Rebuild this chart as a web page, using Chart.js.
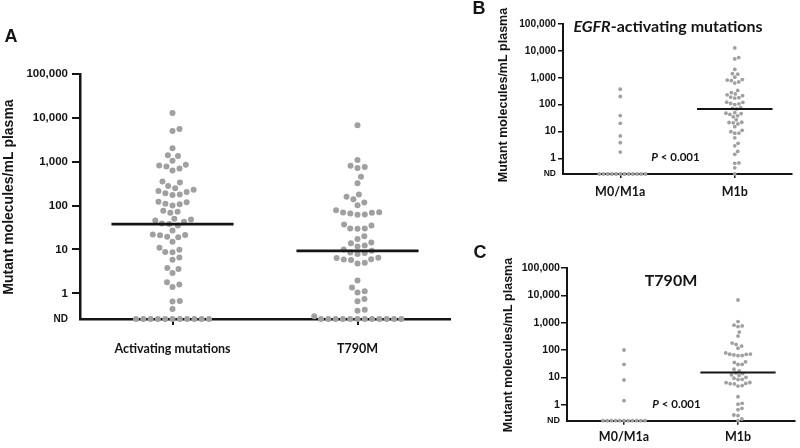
<!DOCTYPE html>
<html>
<head>
<meta charset="utf-8">
<script src="https://cdn.jsdelivr.net/npm/chart.js@4.4.1/dist/chart.umd.min.js"></script>
<style>
  html, body { margin: 0; padding: 0; background: #fff; }
  #wrap { position: relative; width: 800px; height: 448px; overflow: hidden; }
  canvas { position: absolute; }
</style>
</head>
<body>
<div id="wrap">
  <canvas id="panelA" width="460" height="448" style="left:0;top:0"></canvas>
  <canvas id="panelB" width="340" height="224" style="left:460px;top:0"></canvas>
  <canvas id="panelC" width="340" height="224" style="left:460px;top:224px"></canvas>
</div>
<script>
// mutant molecules / mL plasma, 0 = not detected (ND)
const ND_LEVEL = 0.26;
const yTicks = [ND_LEVEL, 1, 10, 100, 1000, 10000, 100000];

// Panel A
const categoriesA = ['Activating mutations', 'T790M'];
const activating = [12900, 5600, 5000, 2040, 1410, 1350, 1050, 850, 820, 780, 700, 630, 355, 335, 280, 250,
  230, 215, 205, 190, 180, 175, 123, 120, 110, 107, 100, 76, 72, 69, 50, 48, 46, 43, 39, 38, 35, 27, 22,
  21.5, 21, 19.5, 19, 15, 11, 9.8, 8.7, 8.6, 6.6, 5.8, 3.8, 3.6, 2.9, 1.8, 1.6, 1.4, 0.67, 0.65, 0.44,
  0, 0, 0, 0, 0, 0, 0, 0, 0, 0, 0];
const t790m = [6760, 1100, 810, 760, 720, 455, 325, 180, 160, 140, 117, 102, 78, 71, 70, 69, 66, 63, 62,
  37, 35, 30, 30, 29.5, 20, 17.4, 14.5, 13.8, 12.3, 11.7, 10, 9.3, 8.5, 8.3, 7.9, 6.5, 6.4, 6.0, 5.9, 5.75,
  5.0, 4.8, 1.95, 1.35, 1.12, 1.05, 0.74, 0.66, 0.42, 0.40, 0.30,
  0, 0, 0, 0, 0, 0, 0, 0, 0, 0, 0, 0];
const mediansA = [38, 9.3];

// Panels B and C
const categoriesBC = ['M0/M1a', 'M1b'];
const egfrM0M1a = [375, 200, 39, 20, 6.8, 3.8, 1.7, 0, 0, 0, 0, 0, 0, 0, 0, 0, 0, 0, 0];
const egfrM1b = [12900, 5600, 5000, 2040, 1410, 1350, 1050, 850, 820, 780, 700, 630, 335, 280, 250, 230,
  215, 190, 180, 175, 123, 120, 110, 107, 100, 76, 72, 69, 50, 48, 46, 43, 38, 35, 27, 22, 21.5, 21, 19,
  15, 11, 9.8, 8.7, 8.6, 5.8, 3.6, 2.9, 1.8, 1.4, 0.67, 0.65, 0.44, 0];
const mediansB = [null, 69];
const t790mM0M1a = [100, 30, 8, 1.4, 0, 0, 0, 0, 0, 0, 0, 0, 0, 0, 0];
const t790mM1b = [6760, 1100, 810, 760, 720, 455, 325, 180, 160, 140, 117, 78, 71, 70, 69, 66, 63, 62, 37,
  35, 30, 29.5, 20, 17.4, 14.5, 13.8, 12.3, 11.7, 10, 9.3, 8.5, 8.3, 6.5, 6.4, 6.0, 5.9, 5.75, 5.0, 4.8,
  1.95, 1.12, 1.05, 0.74, 0.66, 0.42, 0.40, 0.30, 0];
const mediansC = [null, 15];

const INK = '#141414';
const DOT = '#a0a0a0';
const MEDIAN_HALF = 0.33;

const plotValue = v => (v === 0 ? ND_LEVEL : v);

// free text (panel letter, axis title, headings); parts allow italic pieces
function textPlugin(items) {
  return {
    id: 'panelText',
    afterDraw(chart) {
      const ctx = chart.ctx;
      items.forEach(it => {
        ctx.save();
        ctx.translate(it.x, it.y);
        if (it.rotate) ctx.rotate(it.rotate);
        ctx.fillStyle = INK;
        ctx.textBaseline = 'middle';
        ctx.textAlign = 'left';
        const parts = it.parts || [{ text: it.text }];
        const fonts = parts.map(p => (p.italic ? 'italic ' : '') + it.font);
        const widths = parts.map((p, k) => { ctx.font = fonts[k]; return ctx.measureText(p.text).width; });
        let x = -widths.reduce((a, b) => a + b, 0) / 2;
        parts.forEach((p, k) => {
          ctx.font = fonts[k];
          ctx.fillText(p.text, x, 0);
          x += widths[k];
        });
        ctx.restore();
      });
    }
  };
}

// greedy beeswarm in pixel space, lowest values first
function swarm(chart, values, center, spacing) {
  const xs = chart.scales.x, ys = chart.scales.y;
  const cx = xs.getPixelForValue(center);
  const placed = [];
  const out = [];
  const order = values.map((v, i) => i).sort((a, b) => plotValue(values[a]) - plotValue(values[b]));
  order.forEach(i => {
    const py = ys.getPixelForValue(plotValue(values[i]));
    const cands = [0];
    placed.forEach(p => {
      const dy = Math.abs(p.y - py);
      if (dy < spacing) {
        const dx = Math.sqrt(spacing * spacing - dy * dy);
        cands.push(p.x + dx, p.x - dx);
      }
    });
    cands.sort((a, b) => Math.abs(a) - Math.abs(b));
    let best = 0;
    for (const c of cands) {
      if (placed.every(p => (p.x - c) ** 2 + (p.y - py) ** 2 >= spacing * spacing - 0.01)) { best = c; break; }
    }
    placed.push({ x: best, y: py });
    out.push({ x: xs.getValueForPixel(cx + best), y: plotValue(values[i]) });
  });
  return out;
}

function makePanel(id, cfg) {
  const medianSets = [];
  cfg.medians.forEach((m, i) => {
    if (m === null) return;
    medianSets.push({
      type: 'line',
      data: [{ x: i + 0.5 - MEDIAN_HALF, y: m }, { x: i + 0.5 + MEDIAN_HALF, y: m }],
      borderColor: INK,
      borderWidth: cfg.medianWidth,
      pointRadius: 0,
      showLine: true,
      clip: false
    });
  });
  const dotSets = cfg.groups.map(vals => ({
    data: vals.map(v => ({ x: 0, y: plotValue(v) })),
    backgroundColor: DOT,
    borderWidth: 0,
    pointRadius: cfg.radius,
    pointHoverRadius: cfg.radius,
    clip: false
  }));

  const chart = new Chart(document.getElementById(id), {
    type: 'scatter',
    data: { datasets: [...medianSets, ...dotSets] },
    options: {
      responsive: false,
      animation: false,
      events: [],
      layout: { padding: cfg.padding },
      plugins: { legend: { display: false }, tooltip: { enabled: false } },
      scales: {
        x: {
          type: 'linear',
          min: 0,
          max: 2,
          afterBuildTicks: s => { s.ticks = [{ value: 0.5 }, { value: 1.5 }]; },
          afterFit: s => { s.height = cfg.xHeight; },
          ticks: {
            callback: (v, i) => cfg.categories[i],
            font: cfg.catFont,
            color: INK,
            padding: cfg.xPad,
            maxRotation: 0,
            autoSkip: false
          },
          grid: { drawOnChartArea: false, drawTicks: true, tickLength: cfg.xTickLen, color: INK, lineWidth: cfg.tickWidth },
          border: { display: true, color: INK, width: cfg.axisWidth }
        },
        y: {
          type: 'logarithmic',
          min: ND_LEVEL,
          max: 100000,
          afterBuildTicks: s => { s.ticks = yTicks.map(v => ({ value: v })); },
          afterFit: s => { s.width = cfg.yWidth; },
          ticks: {
            callback: v => (v === ND_LEVEL ? 'ND' : v.toLocaleString('en-US')),
            font: c => (c.tick && c.tick.value === ND_LEVEL ? cfg.ndFont : cfg.tickFont),
            color: INK,
            padding: cfg.yPad
          },
          grid: {
            drawOnChartArea: false,
            drawTicks: true,
            tickLength: cfg.yTickLen,
            lineWidth: cfg.tickWidth,
            color: c => (c.tick && c.tick.value === ND_LEVEL ? 'rgba(0,0,0,0)' : INK)
          },
          border: { display: true, color: INK, width: cfg.axisWidth }
        }
      }
    },
    plugins: [textPlugin(cfg.texts)]
  });

  cfg.groups.forEach((vals, i) => {
    chart.data.datasets[medianSets.length + i].data = swarm(chart, vals, i + 0.5, cfg.spacing);
  });
  chart.update('none');
  return chart;
}

const YTITLE = 'Mutant molecules/mL plasma';

makePanel('panelA', {
  categories: categoriesA,
  groups: [activating, t790m],
  medians: mediansA,
  radius: 3, spacing: 7.3, medianWidth: 2.8,
  padding: { top: 74, right: 10, left: 0, bottom: 0 },
  yWidth: 80, xHeight: 129,
  axisWidth: 2.5, tickWidth: 2,
  yTickLen: 8, yPad: 4, xTickLen: 6, xPad: 16,
  tickFont: { family: 'Liberation Sans', weight: 'bold', size: 11.5 },
  ndFont: { family: 'Liberation Sans', weight: 'bold', size: 10 },
  catFont: { family: 'Lato', weight: 'bold', size: 12.5 },
  texts: [
    { text: 'A', x: 11, y: 37, font: 'bold 18px "Liberation Sans"' },
    { text: YTITLE, x: 9, y: 197, rotate: -Math.PI / 2, font: 'bold 14px "Liberation Sans"' }
  ]
});

makePanel('panelB', {
  categories: categoriesBC,
  groups: [egfrM0M1a, egfrM1b],
  medians: mediansB,
  radius: 1.9, spacing: 4.2, medianWidth: 2,
  padding: { top: 24, right: 8, left: 0, bottom: 0 },
  yWidth: 103, xHeight: 50,
  axisWidth: 2, tickWidth: 1.5,
  yTickLen: 5, yPad: 2, xTickLen: 4, xPad: 6,
  tickFont: { family: 'Liberation Sans', weight: 'bold', size: 10.2 },
  ndFont: { family: 'Liberation Sans', weight: 'bold', size: 8.5 },
  catFont: { family: 'Lato', weight: 'bold', size: 12.5 },
  texts: [
    { text: 'B', x: 19, y: 9, font: 'bold 18px "Liberation Sans"' },
    { text: YTITLE, x: 43.5, y: 95, rotate: -Math.PI / 2, font: 'bold 12.5px "Liberation Sans"' },
    { parts: [{ text: 'EGFR', italic: true }, { text: '-activating mutations' }], x: 208, y: 27, font: 'bold 16px Lato' },
    { parts: [{ text: 'P', italic: true }, { text: ' < 0.001' }], x: 215.5, y: 157.7, font: 'bold 11.5px Lato' }
  ]
});

makePanel('panelC', {
  categories: categoriesBC,
  groups: [t790mM0M1a, t790mM1b],
  medians: mediansC,
  radius: 1.9, spacing: 4.2, medianWidth: 2,
  padding: { top: 44, right: 5, left: 0, bottom: 0 },
  yWidth: 107, xHeight: 27.3,
  axisWidth: 2, tickWidth: 1.5,
  yTickLen: 6, yPad: 1, xTickLen: 4, xPad: 5,
  tickFont: { family: 'Liberation Sans', weight: 'bold', size: 10.6 },
  ndFont: { family: 'Liberation Sans', weight: 'bold', size: 9 },
  catFont: { family: 'Lato', weight: 'bold', size: 12.5 },
  texts: [
    { text: 'C', x: 20, y: 29, font: 'bold 18px "Liberation Sans"' },
    { text: YTITLE, x: 49, y: 121, rotate: -Math.PI / 2, font: 'bold 12.5px "Liberation Sans"' },
    { text: 'T790M', x: 211, y: 56.7, font: 'bold 16px Lato' },
    { parts: [{ text: 'P', italic: true }, { text: ' < 0.001' }], x: 216.5, y: 180.7, font: 'bold 11.5px Lato' }
  ]
});
</script>
</body>
</html>
